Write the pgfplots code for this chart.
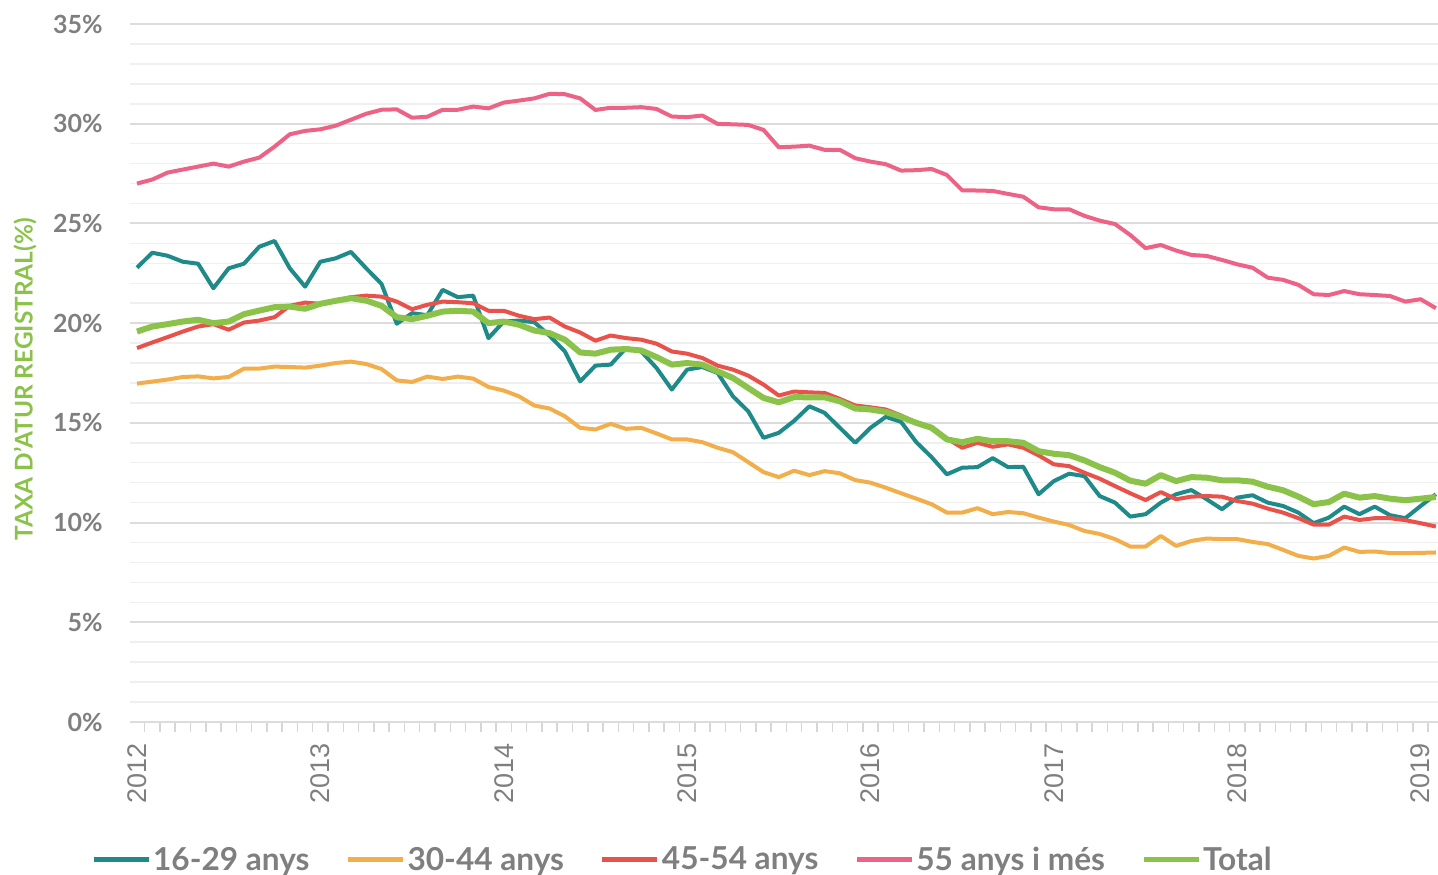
\documentclass[border=0pt]{standalone}
\usepackage{fontspec}
\setmainfont{Lato}
\newfontfamily\yearfont{Liberation Sans}
\usepackage{pgfplots}
\usepackage{pgfplotstable}
\pgfplotsset{compat=1.18}
\definecolor{cTeal}{HTML}{1F8A8A}
\definecolor{cOrange}{HTML}{F2AE4A}
\definecolor{cRed}{HTML}{E9524A}
\definecolor{cPink}{HTML}{EC6386}
\definecolor{cGreen}{HTML}{8BC34A}
\definecolor{cText}{HTML}{7F7F7F}
\definecolor{cMinor}{HTML}{EFEFEF}
\definecolor{cMajor}{HTML}{DCDCDC}
\definecolor{cTick}{HTML}{D6D6D6}

\pgfplotstableread{
m a b c d t
0 22.78 16.97 18.75 27.00 19.58
1 23.53 17.07 19.03 27.20 19.83
2 23.38 17.17 19.30 27.55 19.95
3 23.08 17.30 19.58 27.70 20.08
4 22.98 17.33 19.83 27.85 20.17
5 21.75 17.23 19.95 28.00 20.00
6 22.75 17.30 19.67 27.85 20.08
7 22.98 17.72 20.03 28.10 20.45
8 23.83 17.72 20.13 28.30 20.63
9 24.12 17.82 20.30 28.85 20.80
10 22.75 17.80 20.87 29.47 20.83
11 21.83 17.77 21.03 29.64 20.72
12 23.08 17.87 20.97 29.72 20.97
13 23.25 18.00 21.13 29.90 21.12
14 23.57 18.07 21.30 30.20 21.25
15 22.75 17.95 21.38 30.50 21.13
16 21.97 17.70 21.33 30.70 20.87
17 19.97 17.13 21.08 30.72 20.30
18 20.50 17.05 20.70 30.30 20.20
19 20.40 17.32 20.92 30.35 20.37
20 21.67 17.20 21.08 30.70 20.58
21 21.30 17.32 21.05 30.70 20.62
22 21.38 17.22 21.00 30.86 20.58
23 19.25 16.80 20.62 30.77 20.00
24 20.08 16.62 20.62 31.06 20.08
25 20.13 16.33 20.37 31.16 19.92
26 20.05 15.87 20.20 31.27 19.63
27 19.37 15.72 20.28 31.50 19.50
28 18.58 15.33 19.83 31.48 19.17
29 17.08 14.75 19.53 31.27 18.53
30 17.87 14.67 19.12 30.69 18.47
31 17.92 14.95 19.38 30.80 18.67
32 18.75 14.70 19.25 30.80 18.70
33 18.58 14.75 19.17 30.83 18.63
34 17.75 14.47 18.97 30.74 18.30
35 16.67 14.17 18.58 30.36 17.92
36 17.67 14.17 18.47 30.33 18.00
37 17.80 14.03 18.25 30.41 17.92
38 17.50 13.75 17.87 29.99 17.58
39 16.33 13.53 17.67 29.97 17.25
40 15.58 13.03 17.37 29.94 16.75
41 14.25 12.53 16.92 29.69 16.25
42 14.50 12.28 16.37 28.82 16.03
43 15.10 12.60 16.57 28.85 16.29
44 15.83 12.38 16.53 28.90 16.28
45 15.50 12.58 16.50 28.69 16.28
46 14.75 12.47 16.20 28.69 16.08
47 14.00 12.13 15.87 28.27 15.72
48 14.75 12.00 15.78 28.10 15.67
49 15.30 11.75 15.67 27.97 15.55
50 15.05 11.47 15.37 27.65 15.30
51 14.03 11.20 15.00 27.67 15.00
52 13.28 10.92 14.80 27.73 14.75
53 12.42 10.50 14.22 27.43 14.17
54 12.75 10.50 13.75 26.66 14.03
55 12.78 10.72 14.00 26.65 14.20
56 13.23 10.42 13.80 26.63 14.08
57 12.78 10.53 13.92 26.48 14.08
58 12.80 10.47 13.75 26.34 14.00
59 11.42 10.25 13.37 25.81 13.58
60 12.08 10.05 12.92 25.71 13.45
61 12.45 9.88 12.83 25.71 13.38
62 12.33 9.58 12.50 25.38 13.12
63 11.33 9.43 12.20 25.14 12.78
64 11.00 9.17 11.83 24.97 12.50
65 10.30 8.80 11.47 24.42 12.10
66 10.42 8.80 11.13 23.76 11.95
67 11.00 9.33 11.53 23.92 12.38
68 11.42 8.83 11.17 23.64 12.08
69 11.63 9.08 11.30 23.42 12.28
70 11.17 9.20 11.33 23.37 12.25
71 10.67 9.17 11.30 23.17 12.12
72 11.25 9.17 11.08 22.95 12.12
73 11.37 9.03 10.95 22.78 12.05
74 11.00 8.92 10.70 22.28 11.80
75 10.83 8.63 10.50 22.17 11.62
76 10.50 8.33 10.22 21.92 11.30
77 9.97 8.20 9.90 21.45 10.92
78 10.25 8.33 9.90 21.41 11.03
79 10.80 8.75 10.30 21.61 11.45
80 10.42 8.53 10.13 21.45 11.25
81 10.80 8.55 10.22 21.41 11.33
82 10.37 8.47 10.22 21.36 11.20
83 10.22 8.47 10.12 21.08 11.12
84 10.83 8.48 9.97 21.20 11.20
85 11.42 8.50 9.80 20.75 11.28
}\data

\begin{document}
\begin{tikzpicture}
\path[use as bounding box] (-65bp,-76.5bp) rectangle (654bp,361bp);
\begin{axis}[
  at={(0,0)}, anchor=south west,
  scale only axis, width=654bp, height=349bp,
  xmin=-0.458, xmax=85.14, ymin=0, ymax=35,
  axis line style={draw=none},
  xtick={0,12,24,36,48,60,72,84},
  xticklabels={2012,2013,2014,2015,2016,2017,2018,2019},
  minor xtick={-0.5,0.5,...,84.5},
  ytick={0,1,...,35}, yticklabels={},
  extra y ticks={0,5,10,15,20,25,30,35},
  extra y tick labels={0\%,5\%,10\%,15\%,20\%,25\%,30\%,35\%},
  extra y tick style={ymajorgrids=true, major grid style={draw=cMajor, line width=1bp}},
  ymajorgrids,
  major grid style={draw=cMinor, line width=0.75bp},
  major tick length=0pt, minor tick length=5bp, tick align=outside,
  xtick pos=lower, ytick pos=left,
  tick style={draw=cTick, line width=0.75bp},
  xticklabel style={yshift=-10.5bp, rotate=90, anchor=east, inner sep=0pt,
    font=\yearfont\fontsize{13.5bp}{15bp}\selectfont, text=cText},
  yticklabel style={xshift=-13.5bp, anchor=east, inner sep=0pt,
    font=\bfseries\fontsize{12.5bp}{14bp}\selectfont, text=cText},
  ylabel={TAXA D'ATUR REGISTRAL(\%)},
  every axis y label/.style={at={(axis description cs:-0.0803,0.491)}, rotate=90, anchor=center,
    font=\bfseries\fontsize{12.2bp}{13bp}\selectfont, text=cGreen},
  legend columns=5,
  legend style={at={(axis description cs:-0.0300,-0.1977)}, anchor=west,
    draw=none, fill=none, inner sep=0pt,
    font=\bfseries\fontsize{15.8bp}{17bp}\selectfont, text=cText,
    nodes={inner sep=1bp},
    /tikz/every even column/.append style={column sep=17bp}},
  legend image code/.code={\draw[#1, line width=2.5bp] (0bp,0bp) -- (27.5bp,0bp);},
  no markers,
  every axis plot/.append style={line join=round},
]
\addplot[cTeal, line width=2bp] table[x=m, y=a] {\data};
\addlegendentry{16-29 anys}
\addplot[cOrange, line width=2bp] table[x=m, y=b] {\data};
\addlegendentry{30-44 anys}
\addplot[cRed, line width=2bp] table[x=m, y=c] {\data};
\addlegendentry{45-54 anys}
\addplot[cPink, line width=2bp] table[x=m, y=d] {\data};
\addlegendentry{55 anys i més}
\addplot[cGreen, line width=3bp] table[x=m, y=t] {\data};
\addlegendentry{Total}
\end{axis}
\end{tikzpicture}
\end{document}
